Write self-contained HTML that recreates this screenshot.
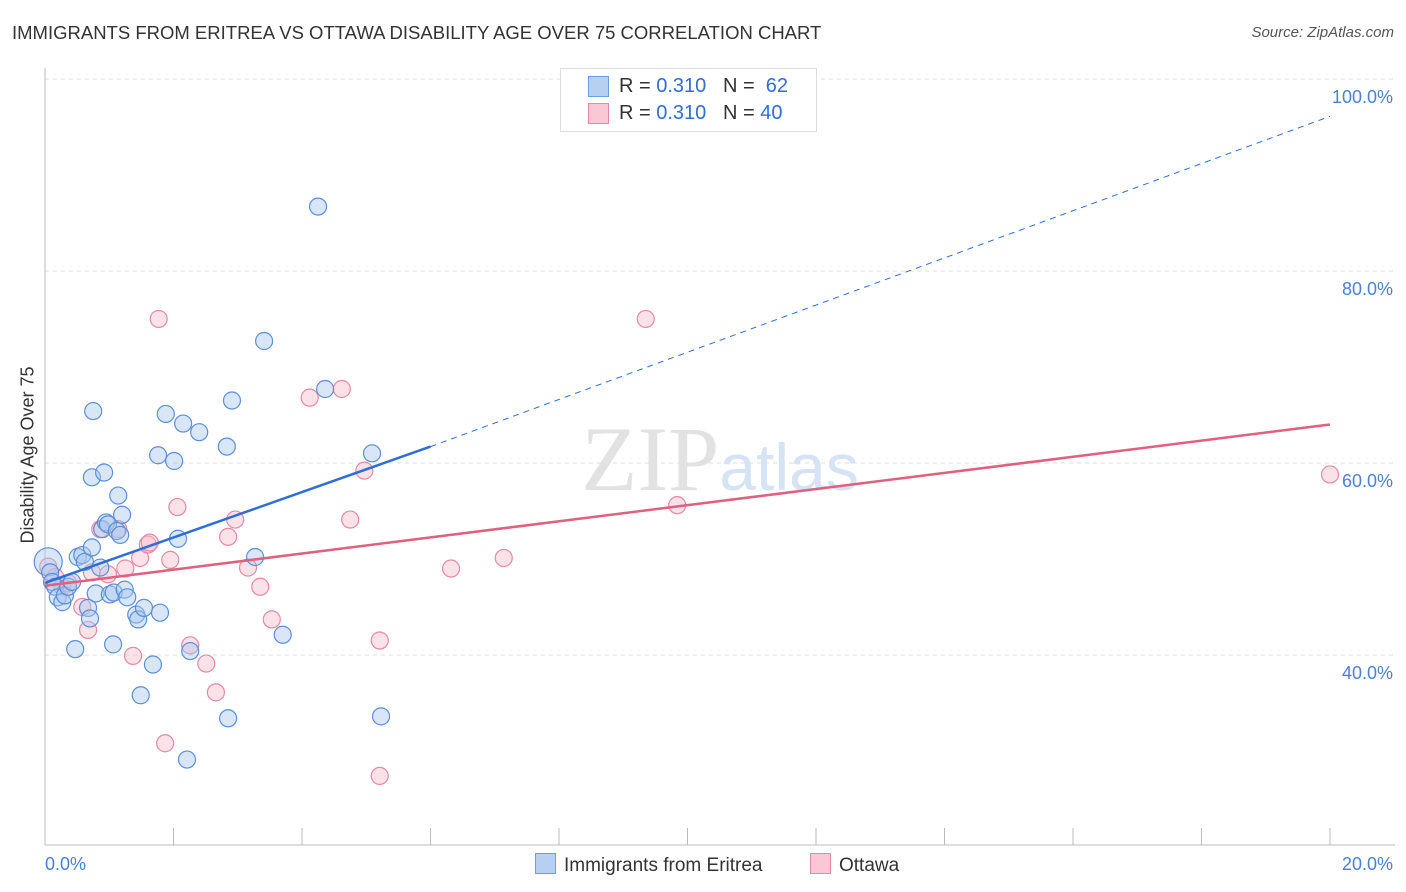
<!DOCTYPE html>
<html><head><meta charset="utf-8"><style>
body{margin:0;background:#fff;font-family:"Liberation Sans",sans-serif;}
#wrap{position:relative;width:1406px;height:892px;overflow:hidden}
.t{position:absolute;white-space:nowrap}
</style></head><body>
<div id="wrap">
<div class="t" style="left:12px;top:22px;font-size:18.5px;color:#333">IMMIGRANTS FROM ERITREA VS OTTAWA DISABILITY AGE OVER 75 CORRELATION CHART</div>
<div class="t" style="right:12px;top:24px;font-size:15px;color:#555;font-style:italic">Source: ZipAtlas.com</div>
<svg id="svg" width="1406" height="892" style="position:absolute;left:0;top:0"></svg>
</div>
<script>
const xTicks=[0,20];
const yTicks=[40,60,80,100];
const blueX=[0.05,0.08,0.11,0.16,0.2,0.27,0.31,0.36,0.42,0.47,0.51,0.58,0.62,0.67,0.7,0.73,0.75,0.73,0.79,0.86,0.89,0.92,0.95,0.98,1.01,1.06,1.07,1.12,1.14,1.17,1.2,1.24,1.28,1.42,1.45,1.49,1.54,1.68,1.76,1.79,1.88,2.01,2.07,2.15,2.21,2.26,2.4,2.83,2.85,2.91,3.27,3.41,3.7,4.25,4.36,5.09,5.23];
const blueY=[49.5,48.4,47.4,46.9,45.8,45.3,46.0,46.9,47.4,40.4,50.0,50.2,49.5,44.7,43.6,51.0,65.2,58.3,46.2,48.9,52.9,58.8,53.6,53.4,46.1,40.9,46.3,52.7,56.4,52.3,54.4,46.6,45.8,44.0,43.5,35.6,44.7,38.8,60.6,44.2,64.9,60.0,51.9,63.9,28.9,40.2,63.0,61.5,33.2,66.3,50.0,72.5,41.9,86.5,67.5,60.8,33.4];
const pinkX=[0.05,0.16,0.27,0.36,0.58,0.67,0.73,0.86,0.98,1.14,1.25,1.37,1.48,1.6,1.63,1.77,1.87,1.95,2.06,2.26,2.51,2.66,2.85,2.96,3.16,3.35,3.53,4.12,4.62,4.75,4.97,5.21,5.21,6.32,7.14,9.35,9.84,20.0];
const pinkY=[49.0,47.9,46.9,47.3,44.8,42.4,48.4,52.9,48.2,52.9,48.8,39.7,49.9,51.3,51.5,74.8,30.6,49.7,55.2,40.8,38.9,35.9,52.1,53.9,48.9,46.9,43.5,66.6,67.5,53.9,59.0,41.3,27.2,48.8,49.9,74.8,55.4,58.6];
const x0=45,x1=1330,yTop=79;
const X=v=>x0+(v/20)*(x1-x0);
const Y=v=>yTop+(100-v)*9.6-2;
const NS="http://www.w3.org/2000/svg";
const svg=document.getElementById('svg');
function el(tag,attrs,parent){const e=document.createElementNS(NS,tag);for(const k in attrs)e.setAttribute(k,attrs[k]);(parent||svg).appendChild(e);return e;}
yTicks.forEach(v=>{
 const yy=yTop+(100-v)*9.6;
 const g=el('line',{x1:x0,x2:1395,y1:yy,y2:yy,stroke:'#ddd','stroke-dasharray':'4,4'});
 
 
 const t=el('text',{x:1393,y:yy+24,'text-anchor':'end','font-size':18,fill:'#4a7fd6','font-family':'Liberation Sans, sans-serif'});
 t.textContent=v.toFixed(1)+'%';
 
 
});
const ya=el('line',{x1:x0,x2:x0,y1:68,y2:845,stroke:'#bbb'});


const xa=el('line',{x1:x0,x2:1395,y1:845,y2:845,stroke:'#bbb'});


for(let i=1;i<=10;i++){const tk=el('line',{x1:X(i*2),x2:X(i*2),y1:828,y2:845,stroke:'#bbb'});
 
 }
xTicks.forEach(v=>{const t=el('text',{x:v==0?X(v):X(v)+63,y:870,'text-anchor':v==0?'start':'end','font-size':18,fill:'#4a7fd6','font-family':'Liberation Sans, sans-serif'});
 t.textContent=v.toFixed(1)+'%';
 
 });
const wm=el('text',{x:720,y:490,'text-anchor':'middle','font-size':92,fill:'#e2e2e2','font-family':'Liberation Serif, serif'});
wm.innerHTML='ZIP<tspan fill="#d5e3f5" font-family="Liberation Sans, sans-serif" font-size="66">atlas</tspan>';


function dots(xs,ys,fill,stroke,name,big){xs.forEach((v,i)=>{const r=(big&&i==0)?14:8.5;
 const c=el('circle',{cx:X(v),cy:Y(ys[i]),r:r,fill:fill,'fill-opacity':0.45,stroke:stroke,'stroke-width':1.2});
 
 });}
dots(pinkX,pinkY,'#f7bccd','#e58aa6','point-ottawa',false);
dots(blueX,blueY,'#a9c8f0','#5b8fd8','point-eritrea',true);
const bl=el('line',{x1:X(0),y1:Y(47.3),x2:X(6),y2:Y(61.5),stroke:'#2d6fd6','stroke-width':2.5});


const bd=el('line',{x1:X(6),y1:Y(61.5),x2:X(20),y2:Y(95.9),stroke:'#2d6fd6','stroke-width':1,'stroke-dasharray':'6,5'});


const pl=el('line',{x1:X(0),y1:Y(47.0),x2:X(20),y2:Y(63.8),stroke:'#e0607f','stroke-width':2.5});


</script>
<div style="position:absolute;left:560px;top:68px;width:255px;height:62px;border:1px solid #ddd;background:#fff;font-size:20px;color:#333">
 <div style="position:absolute;left:27px;top:7px;width:19px;height:19px;background:#b5d0f2;border:1px solid #6f9be0"></div>
 <div class="t" style="left:58px;top:6px">R = <span style="color:#2d6fd6">0.310</span>&nbsp;&nbsp;&nbsp;N = &nbsp;<span style="color:#2d6fd6">62</span></div>
 <div style="position:absolute;left:27px;top:34px;width:19px;height:19px;background:#f9c7d5;border:1px solid #e58aa6"></div>
 <div class="t" style="left:58px;top:33px">R = <span style="color:#2d6fd6">0.310</span>&nbsp;&nbsp;&nbsp;N = <span style="color:#2d6fd6">40</span></div>
</div>
<div style="position:absolute;left:535px;top:853px;font-size:19px;color:#333">
 <span style="display:inline-block;width:19px;height:19px;background:#b5d0f2;border:1px solid #6f9be0;vertical-align:-3px;margin-right:8px"></span>Immigrants from Eritrea</div>
<div style="position:absolute;left:810px;top:853px;font-size:19px;color:#333">
 <span style="display:inline-block;width:19px;height:19px;background:#f9c7d5;border:1px solid #e58aa6;vertical-align:-3px;margin-right:8px"></span>Ottawa</div>
<div class="t" style="left:28px;top:455px;font-size:18px;color:#333;transform:translate(-50%,-50%) rotate(-90deg)">Disability Age Over 75</div>
</body></html>
